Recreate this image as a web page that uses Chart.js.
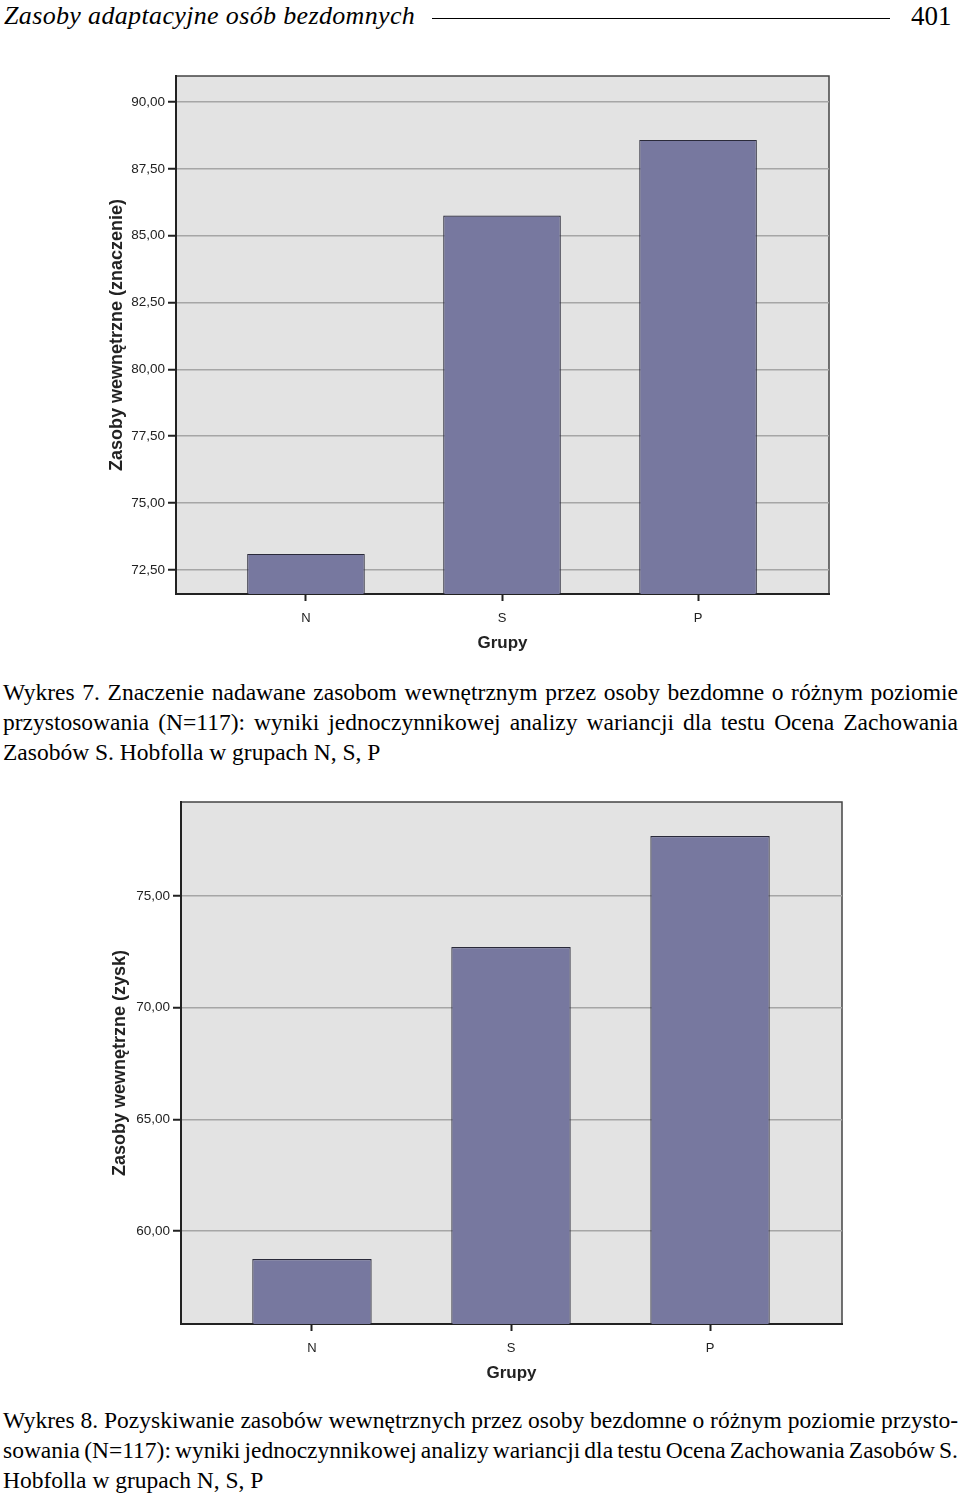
<!DOCTYPE html>
<html>
<head>
<meta charset="utf-8">
<script src="https://cdn.jsdelivr.net/npm/chart.js@4"></script>
<style>
  body { margin: 0; background: #fff; width: 960px; height: 1499px; position: relative; overflow: hidden; }
  .abs { position: absolute; }
  .hdr { font-family: "Liberation Serif", serif; color: #000; }
  .cap { font-family: "Liberation Serif", serif; font-size: 23.5px; line-height: 30px; color: #000; left: 3px; width: 955px; }
  .cap div { white-space: nowrap; }
</style>
</head>
<body>
<div class="abs hdr" style="left:4px; top:0; font-size:26px; line-height:32px; font-style:italic; letter-spacing:0.35px;">Zasoby adaptacyjne osób bezdomnych</div>
<div class="abs" style="left:432px; top:18px; width:458px; height:1px; background:#000;"></div>
<div class="abs hdr" style="left:911px; top:0; font-size:27px; line-height:32px;">401</div>

<canvas id="wykres7" class="abs" width="740" height="600" style="left:103px; top:60px;"></canvas>

<div class="abs cap" style="top:677px;">
  <div class="full">Wykres 7. Znaczenie nadawane zasobom wewnętrznym przez osoby bezdomne o różnym poziomie</div>
  <div class="full">przystosowania (N=117): wyniki jednoczynnikowej analizy wariancji dla testu Ocena Zachowania</div>
  <div>Zasobów S. Hobfolla w grupach N, S, P</div>
</div>

<canvas id="wykres8" class="abs" width="750" height="600" style="left:106px; top:790px;"></canvas>

<div class="abs cap" style="top:1405px;">
  <div class="full">Wykres 8. Pozyskiwanie zasobów wewnętrznych przez osoby bezdomne o różnym poziomie przysto-</div>
  <div class="full">sowania (N=117): wyniki jednoczynnikowej analizy wariancji dla testu Ocena Zachowania Zasobów S.</div>
  <div>Hobfolla w grupach N, S, P</div>
</div>

<script>
// dane
const grupy = ['N', 'S', 'P'];
const znaczenie = [73.10, 85.75, 88.58];
const zysk = [58.75, 72.72, 77.69];
const ticksZnaczenie = [72.5, 75, 77.5, 80, 82.5, 85, 87.5, 90];
const ticksZysk = [60, 65, 70, 75];

// szare tło i ramka obszaru wykresu (styl SPSS)
const tloPlugin = {
  id: 'tlo',
  beforeDraw(chart) {
    const {ctx, chartArea: a} = chart;
    ctx.save();
    ctx.fillStyle = '#e3e3e3';
    ctx.fillRect(a.left, a.top, a.right - a.left, a.bottom - a.top);
    ctx.strokeStyle = '#444';
    ctx.lineWidth = 1.5;
    ctx.strokeRect(a.left, a.top, a.right - a.left, a.bottom - a.top);
    ctx.restore();
  }
};

function fmt(v) {
  return Number(v).toFixed(2).replace('.', ',');
}

function rysuj(id, values, yTicks, yMin, yMax, xMin, xMax, yTitle, yWidth, padTop) {
  new Chart(document.getElementById(id), {
    type: 'bar',
    data: {
      datasets: [{
        data: values.map((v, i) => ({x: i + 1, y: v})),
        backgroundColor: '#77789f',
        borderColor: '#2a2a3a',
        borderWidth: 1.2,
        barPercentage: 0.6,
        categoryPercentage: 1
      }]
    },
    options: {
      responsive: false,
      devicePixelRatio: 1,
      animation: false,
      layout: { padding: { top: padTop, right: 14, left: 0, bottom: 0 } },
      plugins: { legend: { display: false }, tooltip: { enabled: false } },
      scales: {
        x: {
          type: 'linear',
          min: xMin,
          max: xMax,
          offset: false,
          afterBuildTicks: s => { s.ticks = grupy.map((g, i) => ({value: i + 1})); },
          afterFit: s => { s.height = 66; },
          ticks: {
            callback: v => grupy[v - 1],
            font: { family: 'Liberation Sans', size: 13 },
            color: '#222',
            padding: 10,
            maxRotation: 0
          },
          grid: { drawOnChartArea: false, tickLength: 7, tickColor: '#222', tickWidth: 2, offset: false },
          border: { display: true, color: '#222', width: 2 },
          title: {
            display: true,
            text: 'Grupy',
            font: { family: 'Liberation Sans', size: 17, weight: 'bold' },
            color: '#222',
            padding: { top: 4, bottom: 6 }
          }
        },
        y: {
          min: yMin,
          max: yMax,
          afterBuildTicks: s => { s.ticks = yTicks.map(v => ({value: v})); },
          afterFit: s => { s.width = yWidth; },
          ticks: {
            callback: v => fmt(v),
            font: { family: 'Liberation Sans', size: 13.5 },
            color: '#222',
            padding: 3
          },
          grid: { color: '#a6a6a6', lineWidth: 1.5, tickLength: 8, tickColor: '#222', tickWidth: 2 },
          border: { display: true, color: '#222', width: 2 },
          title: {
            display: true,
            text: yTitle,
            font: { family: 'Liberation Sans', size: 18, weight: 'bold' },
            color: '#222',
            padding: { top: 3, bottom: 4 }
          }
        }
      }
    },
    plugins: [tloPlugin]
  });
}

rysuj('wykres7', znaczenie, ticksZnaczenie, 71.6, 90.97, 0.337, 3.668, 'Zasoby wewnętrzne (znaczenie)', 73, 16);
rysuj('wykres8', zysk, ticksZysk, 55.84, 79.21, 0.342, 3.663, 'Zasoby wewnętrzne (zysk)', 75, 12);

// wyjustowanie pełnych wierszy podpisów
document.querySelectorAll('.cap .full').forEach(el => {
  const span = document.createElement('span');
  span.textContent = el.textContent;
  el.textContent = '';
  el.appendChild(span);
  const spaces = (span.textContent.match(/ /g) || []).length;
  const diff = 955 - span.getBoundingClientRect().width;
  span.style.wordSpacing = (diff / spaces) + 'px';
});
</script>
</body>
</html>
